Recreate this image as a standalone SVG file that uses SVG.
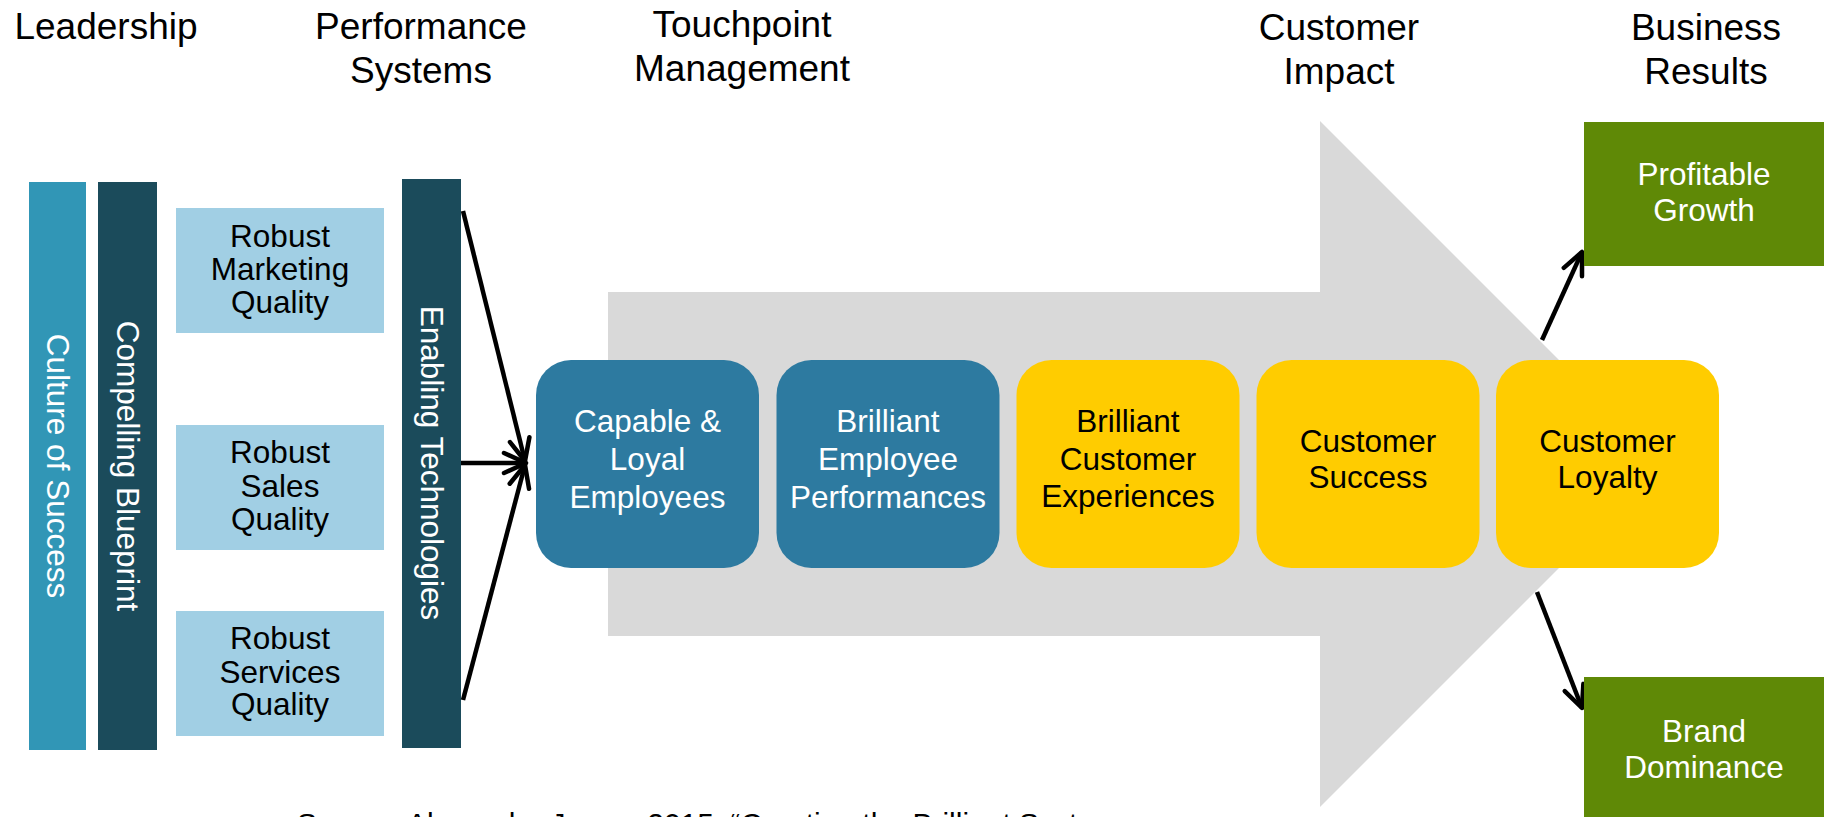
<svg xmlns="http://www.w3.org/2000/svg" width="1824" height="817" viewBox="0 0 1824 817">
<style>
text{font-family:"Liberation Sans",Arial,sans-serif;}
.hdr{font-size:37px;fill:#000;text-anchor:middle;}
.vt{font-size:31.5px;fill:#fff;text-anchor:middle;dominant-baseline:central;}
.lt{font-size:31.5px;fill:#000;text-anchor:middle;}
.wt{font-size:31.5px;fill:#fff;text-anchor:middle;}
.bt{font-size:31.5px;fill:#000;text-anchor:middle;}
.src{font-size:30px;fill:#000;}
.bar1{fill:#3196b6;}
.bar2{fill:#1b4b5b;}
.light{fill:#a1cfe4;}
.blue{fill:#2d7aa0;}
.yellow{fill:#ffcc00;}
.green{fill:#5f8906;}
.conn{stroke:#000;stroke-width:4.5;fill:none;marker-end:url(#arr);}
</style>
<defs>
<marker id="arr" markerUnits="userSpaceOnUse" markerWidth="60" markerHeight="60" refX="0" refY="0" orient="auto" overflow="visible">
<path d="M-22,-10 L0,0 L-22,10" fill="none" stroke="#000" stroke-width="4.5" stroke-linecap="round" stroke-linejoin="round"/>
</marker>
</defs>

<g id="headers">
<text class="hdr" x="106" y="39">Leadership</text>
<text class="hdr" x="421" y="39">Performance</text>
<text class="hdr" x="421" y="83">Systems</text>
<text class="hdr" x="742" y="37">Touchpoint</text>
<text class="hdr" x="742" y="81">Management</text>
<text class="hdr" x="1339" y="40">Customer</text>
<text class="hdr" x="1339" y="84">Impact</text>
<text class="hdr" x="1706" y="40">Business</text>
<text class="hdr" x="1706" y="84">Results</text>
</g>

<g id="big-arrow">
<polygon points="608,292 1320,292 1320,121 1663,464 1320,807 1320,636 608,636" fill="#d9d9d9"/>
</g>

<g id="culture">
<rect class="bar1" x="29" y="182" width="57" height="568"/>
<text class="vt" transform="translate(57.5,466) rotate(90)">Culture of Success</text>
</g>
<g id="blueprint">
<rect class="bar2" x="98" y="182" width="59" height="568"/>
<text class="vt" transform="translate(127.5,466) rotate(90)">Compelling Blueprint</text>
</g>
<g id="marketing">
<rect class="light" x="176" y="208" width="208" height="125"/>
<text class="lt" x="280" y="247">Robust</text>
<text class="lt" x="280" y="280">Marketing</text>
<text class="lt" x="280" y="313">Quality</text>
</g>
<g id="sales">
<rect class="light" x="176" y="425" width="208" height="125"/>
<text class="lt" x="280" y="463">Robust</text>
<text class="lt" x="280" y="497">Sales</text>
<text class="lt" x="280" y="530">Quality</text>
</g>
<g id="services">
<rect class="light" x="176" y="611" width="208" height="125"/>
<text class="lt" x="280" y="649">Robust</text>
<text class="lt" x="280" y="683">Services</text>
<text class="lt" x="280" y="715">Quality</text>
</g>
<g id="enabling">
<rect class="bar2" x="402" y="179" width="59" height="569"/>
<text class="vt" transform="translate(431.5,463) rotate(90)">Enabling Technologies</text>
</g>

<g id="connectors">
<line class="conn" x1="463" y1="211" x2="525" y2="461"/>
<line class="conn" x1="461" y1="463" x2="526" y2="463"/>
<line class="conn" x1="463" y1="700" x2="525" y2="465"/>
<line class="conn" x1="1542" y1="340" x2="1582" y2="252"/>
<line class="conn" x1="1537" y1="592" x2="1582" y2="708"/>
</g>

<g id="capable">
<rect class="blue" x="536" y="360" width="223" height="208" rx="35" ry="35"/>
<text class="wt" x="647.5" y="432">Capable &amp;</text>
<text class="wt" x="647.5" y="470">Loyal</text>
<text class="wt" x="647.5" y="508">Employees</text>
</g>
<g id="employee-perf">
<rect class="blue" x="776.5" y="360" width="223" height="208" rx="35" ry="35"/>
<text class="wt" x="888" y="432">Brilliant</text>
<text class="wt" x="888" y="470">Employee</text>
<text class="wt" x="888" y="508">Performances</text>
</g>
<g id="customer-exp">
<rect class="yellow" x="1016.5" y="360" width="223" height="208" rx="35" ry="35"/>
<text class="bt" x="1128" y="432">Brilliant</text>
<text class="bt" x="1128" y="470">Customer</text>
<text class="bt" x="1128" y="507">Experiences</text>
</g>
<g id="customer-success">
<rect class="yellow" x="1256.5" y="360" width="223" height="208" rx="35" ry="35"/>
<text class="bt" x="1368" y="452">Customer</text>
<text class="bt" x="1368" y="488">Success</text>
</g>
<g id="customer-loyalty">
<rect class="yellow" x="1496" y="360" width="223" height="208" rx="35" ry="35"/>
<text class="bt" x="1607.5" y="452">Customer</text>
<text class="bt" x="1607.5" y="488">Loyalty</text>
</g>
<g id="profitable-growth">
<rect class="green" x="1584" y="122" width="240" height="144"/>
<text class="wt" x="1704" y="185">Profitable</text>
<text class="wt" x="1704" y="221">Growth</text>
</g>
<g id="brand-dominance">
<rect class="green" x="1584" y="677" width="240" height="140"/>
<text class="wt" x="1704" y="742">Brand</text>
<text class="wt" x="1704" y="778">Dominance</text>
</g>

<g id="source">
<text class="src" x="297" y="834">Source: Alexander Jones, 2015, “Creating the Brilliant Syst</text>
</g>
</svg>
